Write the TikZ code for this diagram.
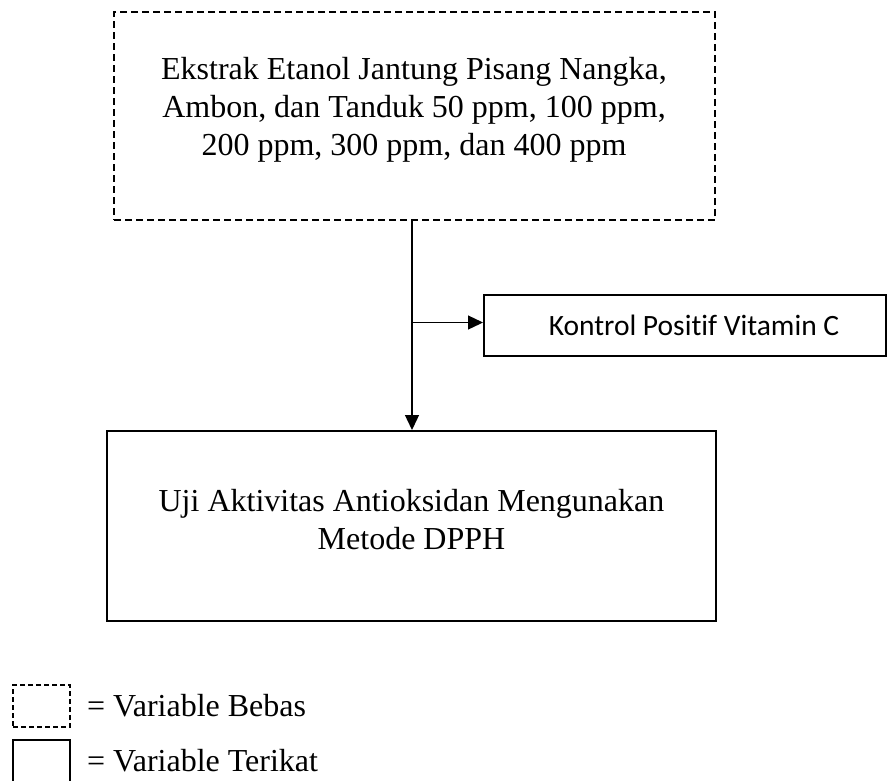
\documentclass[tikz,border=0pt]{standalone}
\usepackage{fontspec}
\setmainfont{Liberation Serif}
\newfontfamily\calib[Ligatures=NoCommon]{Carlito}
\usetikzlibrary{arrows.meta}
\begin{document}
\begin{tikzpicture}[x=1pt,y=-1pt,
  dbox/.style={draw,dashed,line width=2pt,dash pattern=on 7pt off 4pt,inner sep=0pt},
  sbox/.style={draw,line width=2pt,inner sep=0pt},
  txt/.style={align=center,font=\fontsize{32}{38}\selectfont,inner sep=0pt},
  arr/.style={line width=1.3pt,-{Triangle[length=15pt,width=14pt]}}]
\useasboundingbox (0,0) rectangle (888,780);
\node[dbox,minimum width=601pt,minimum height=208pt] (top) at (414.5,116) {};
\node[txt] (toptxt) at (414,110) {Ekstrak Etanol Jantung Pisang Nangka,\\Ambon, dan Tanduk 50 ppm, 100 ppm,\\200 ppm, 300 ppm, dan 400 ppm};
\node[sbox,minimum width=402pt,minimum height=61pt] (kon) at (685,325.5) {};
\node[font=\calib\fontsize{29.5}{34}\selectfont,inner sep=0pt] (kontxt) at (694,325) {Kontrol Positif Vitamin C};
\node[sbox,minimum width=609pt,minimum height=190pt] (bot) at (411.5,526) {};
\node[txt] (bottxt) at (411.5,520) {Uji Aktivitas Antioksidan Mengunakan\\Metode DPPH};
\coordinate (vx) at (412,0);
\coordinate (hy) at (0,322.5);
\draw[arr] (top.south -| vx) -- (bot.north -| vx);
\draw[arr] (vx |- hy) -- (kon.west |- hy);
\node[dbox,line width=1.8pt,dash pattern=on 5pt off 3pt,minimum width=57pt,minimum height=42pt] (lg1) at (41.5,706) {};
\node[sbox,minimum width=57pt,minimum height=44pt] (lg2) at (41.5,762) {};
\node[anchor=west,font=\fontsize{32}{38}\selectfont,inner sep=0pt] (lt1) at (87,706) {= Variable Bebas};
\node[anchor=west,font=\fontsize{32}{38}\selectfont,inner sep=0pt] (lt2) at (87,761) {= Variable Terikat};
\end{tikzpicture}
\end{document}
